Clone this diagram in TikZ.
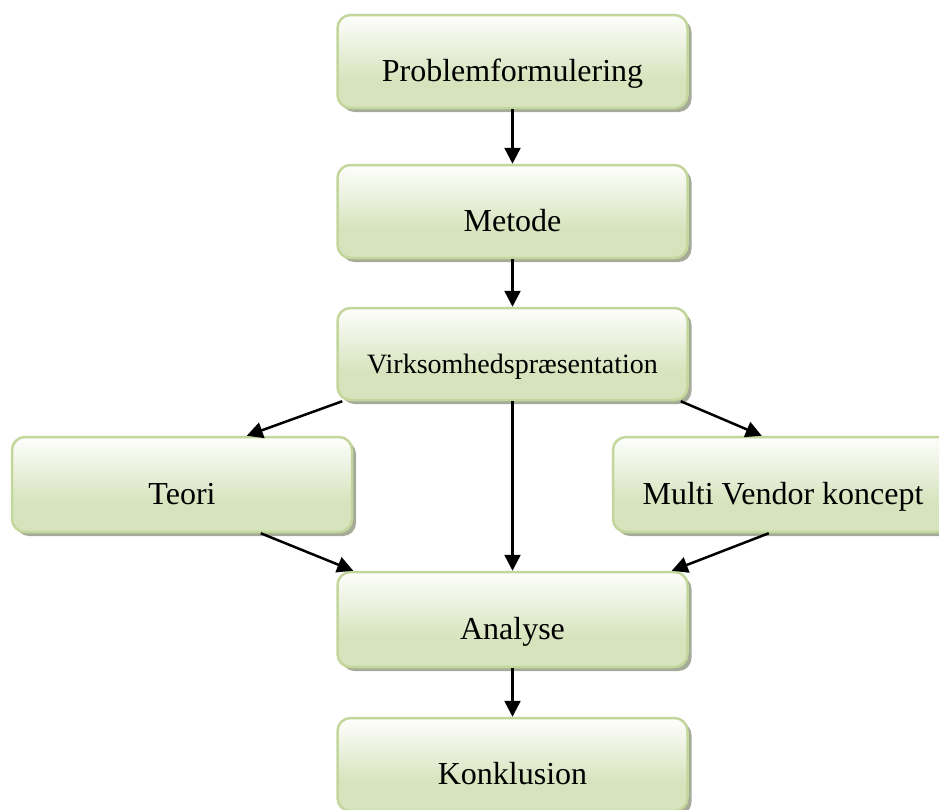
\documentclass[tikz,border=0pt]{standalone}
\usepackage{fontspec}
\setmainfont{Liberation Serif}
\usetikzlibrary{arrows.meta,calc,shadows}

\definecolor{boxgreen}{RGB}{214,227,188}
\definecolor{boxedge}{RGB}{195,214,155}
\definecolor{boxshadow}{RGB}{165,171,152}

% pale top fading into the green body of each box
\pgfdeclareverticalshading{boxfill}{100bp}{%
  color(0bp)=(boxgreen); color(40bp)=(boxgreen);
  color(76bp)=(white); color(100bp)=(white)}

\tikzset{
  stage/.style={
    draw=boxedge, line width=2.5pt, rounded corners=13pt,
    shading=boxfill,
    drop shadow={shadow xshift=4pt, shadow yshift=-4pt,
                 fill=boxshadow, opacity=1},
    minimum width=350pt, minimum height=93pt, inner sep=0pt,
    text height=40pt, text depth=0pt,
    font=\fontsize{32}{38}\selectfont
  },
  flow/.style={line width=2.5pt, -{Triangle[length=16pt,width=16pt]}}
}

\begin{document}
\begin{tikzpicture}[x=1pt,y=-1pt]
  \useasboundingbox (0,0) rectangle (939,809);
  \clip (0,0) rectangle (939,809);

  \node[stage] (prob)   at (512.5,61.5)  {Problemformulering};
  \node[stage] (metode) at (512.5,211.5) {Metode};
  \node[stage, minimum height=92pt, text height=38pt,
        font=\fontsize{28}{34}\selectfont]
               (virk)   at (512.5,354)   {Virksomhedspræsentation};
  \node[stage, minimum width=340pt, minimum height=95pt]
               (teori)  at (182,484.5)   {Teori};
  \node[stage, minimum width=340pt, minimum height=95pt]
               (multi)  at (783,484.5)   {Multi Vendor koncept};
  \node[stage, minimum height=95pt]
               (analyse) at (512.5,619.5) {Analyse};
  \node[stage] (konk)   at (512.5,764.5) {Konklusion};

  \draw[flow] (prob.south) -- (metode.north);
  \draw[flow] (metode.south) -- (virk.north);
  \draw[flow] ($(virk.south west)+(6,0)$) -- ($(teori.north west)+(236,0)$);
  \draw[flow] ($(virk.south east)+(-8,0)$) -- ($(multi.north west)+(150,0)$);
  \draw[flow] (virk.south) -- (analyse.north);
  \draw[flow] ($(teori.south west)+(250,0)$) -- ($(analyse.north west)+(17,0)$);
  \draw[flow] ($(multi.south west)+(157,0)$) -- ($(analyse.north east)+(-17,0)$);
  \draw[flow] (analyse.south) -- (konk.north);
\end{tikzpicture}
\end{document}
